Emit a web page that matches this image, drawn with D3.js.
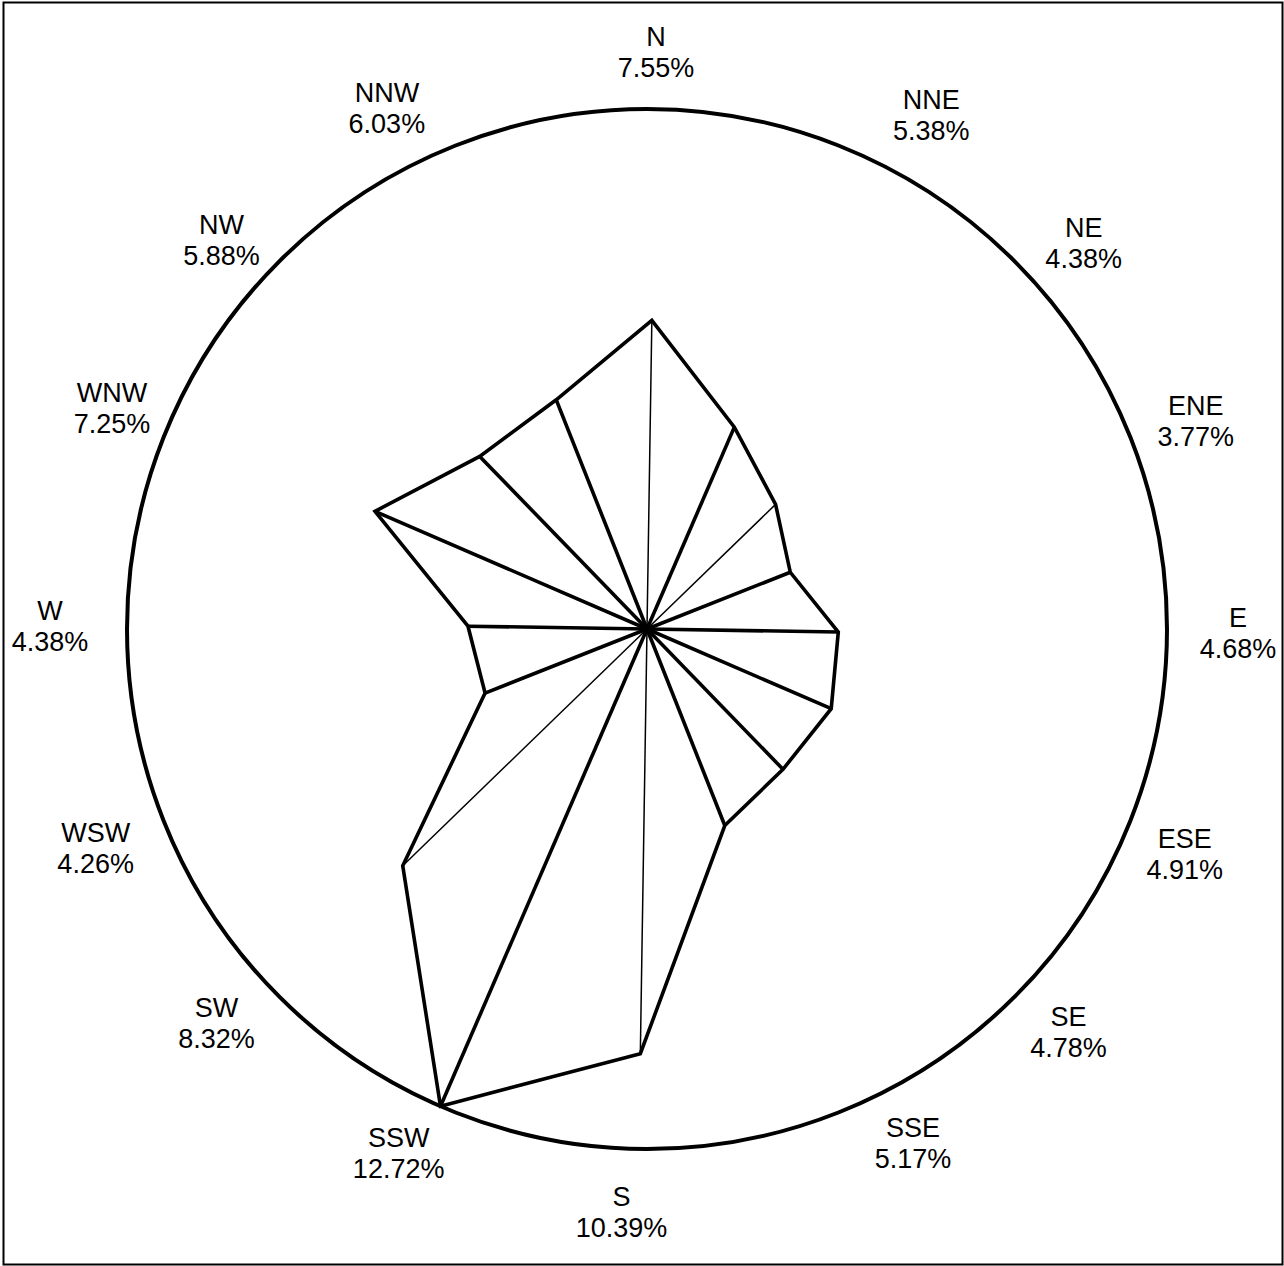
<!DOCTYPE html>
<html>
<head>
<meta charset="utf-8">
<script src="https://cdn.jsdelivr.net/npm/d3@7"></script>
<style>
  html, body { margin: 0; padding: 0; background: #fff; }
  svg { display: block; }
  text { font-family: "Liberation Sans", Arial, sans-serif; }
</style>
</head>
<body>
<svg id="chart" width="1284" height="1266"></svg>
<script>
// ---- data ----
const directions = ["N","NNE","NE","ENE","E","ESE","SE","SSE","S","SSW","SW","WSW","W","WNW","NW","NNW"];
const frequencies = [7.55, 5.38, 4.38, 3.77, 4.68, 4.91, 4.78, 5.17, 10.39, 12.72, 8.32, 4.26, 4.38, 7.25, 5.88, 6.03];
const valueLabels = ["7.55%","5.38%","4.38%","3.77%","4.68%","4.91%","4.78%","5.17%","10.39%","12.72%","8.32%","4.26%","4.38%","7.25%","5.88%","6.03%"];

// ---- layout ----
const W = 1284, H = 1266;
const cx = 647, cy = 629;
const outerR = 520;
const rotation = 0.9; // degrees clockwise
const labelR = 583;
const labelAngleNudge = [0, 5.5, 2.6, 0.8, -0.6, -0.7, -2.2, -5.8, 1.6, 2.0, 1.7, 0, -0.6, -0.9, -3.4, -4.9];
const labelRadiusNudge = [-5, 5, 0, 4, 8, 0, 0, -5, 0, -4, 0, 10, 14, -4, -6, 0];

const svg = d3.select("#chart");

svg.append("rect")
  .attr("x", 3.5).attr("y", 2.5)
  .attr("width", 1279).attr("height", 1262)
  .attr("fill", "#fff").attr("stroke", "#000").attr("stroke-width", 2);

const g = svg.append("g").attr("transform", `translate(${cx},${cy})`);

const r = d3.scaleLinear().domain([0, d3.max(frequencies)]).range([0, outerR]);
const angle = d3.scaleLinear().domain([0, directions.length]).range([0, 2 * Math.PI]);
const rot = rotation * Math.PI / 180;
const ang = i => angle(i) + rot;

// outer circle
g.append("circle").attr("r", outerR)
  .attr("fill", "none").attr("stroke", "#000").attr("stroke-width", 4);

// spokes
const thin = i => { const deg = (i * 22.5) % 180; return deg === 0 || deg === 45; };
g.selectAll("line.spoke").data(frequencies).join("line")
  .attr("class", "spoke")
  .attr("x1", 0).attr("y1", 0)
  .attr("x2", (d, i) => r(d) * Math.sin(ang(i)))
  .attr("y2", (d, i) => -r(d) * Math.cos(ang(i)))
  .attr("stroke", "#000")
  .attr("stroke-width", (d, i) => thin(i) ? 1.5 : 3.6);

// polygon
const line = d3.lineRadial()
  .angle((d, i) => ang(i))
  .radius(d => r(d))
  .curve(d3.curveLinearClosed);
g.append("path").datum(frequencies)
  .attr("d", line)
  .attr("fill", "none").attr("stroke", "#000")
  .attr("stroke-width", 3.6).attr("stroke-linejoin", "miter");

// labels
const lab = g.selectAll("text.lab").data(directions).join("text")
  .attr("class", "lab")
  .attr("text-anchor", "middle")
  .attr("font-size", 27)
  .attr("fill", "#000")
  .attr("transform", (d, i) => {
    const a = ang(i) + labelAngleNudge[i] * Math.PI / 180;
    const R = labelR + labelRadiusNudge[i];
    return `translate(${R * Math.sin(a)},${-R * Math.cos(a)})`;
  });
lab.append("tspan").attr("x", 0).attr("y", -5.5).text(d => d);
lab.append("tspan").attr("x", 0).attr("y", 25.5).text((d, i) => valueLabels[i]);
</script>
</body>
</html>
